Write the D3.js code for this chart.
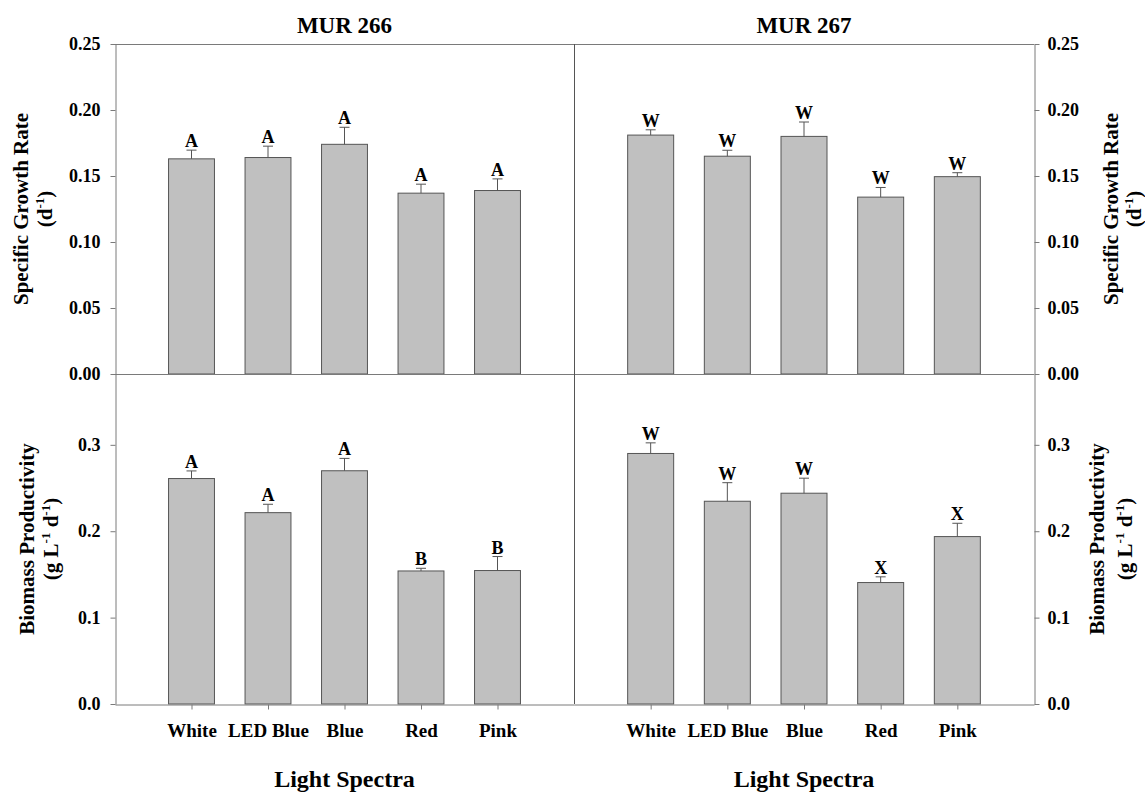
<!DOCTYPE html>
<html>
<head>
<meta charset="utf-8">
<script src="https://cdn.jsdelivr.net/npm/d3@7"></script>
<style>
  html, body { margin: 0; padding: 0; background: #fff; }
  svg text { font-family: "Liberation Serif", "Times New Roman", serif; font-weight: bold; fill: #000; }
</style>
</head>
<body>
<svg id="chart" width="1145" height="794"></svg>
<script>
// Light spectra tested on each strain
const categories = ["White", "LED Blue", "Blue", "Red", "Pink"];
const strains = ["MUR 266", "MUR 267"];

// Specific growth rate (d^-1): means, upper error, significance letters
const sgr266 = [0.163, 0.164, 0.174, 0.137, 0.139];
const sgr266Err = [0.0066, 0.0086, 0.0129, 0.0068, 0.0088];
const sgr266Letters = ["A", "A", "A", "A", "A"];
const sgr267 = [0.181, 0.165, 0.180, 0.134, 0.1495];
const sgr267Err = [0.0040, 0.0045, 0.0109, 0.0073, 0.0030];
const sgr267Letters = ["W", "W", "W", "W", "W"];

// Biomass productivity (g L^-1 d^-1)
const bp266 = [0.261, 0.2215, 0.270, 0.154, 0.1545];
const bp266Err = [0.0088, 0.0097, 0.0143, 0.0031, 0.0162];
const bp266Letters = ["A", "A", "A", "B", "B"];
const bp267 = [0.290, 0.2347, 0.244, 0.1406, 0.1938];
const bp267Err = [0.0123, 0.0215, 0.0174, 0.0066, 0.0154];
const bp267Letters = ["W", "W", "W", "X", "X"];

const sgrTicks = [0, 0.05, 0.10, 0.15, 0.20, 0.25];
const bpTicks = [0, 0.1, 0.2, 0.3];

const svg = d3.select("#chart");

// frame geometry
const xL = 115, xM = 574, xR = 1034;
const yT = 44, yM = 374, yB = 704;

const AXIS = "#7a7a7a";
const BAR_FILL = "#c0c0c0";
const BAR_STROKE = "#555";

const ySgr = d3.scaleLinear().domain([0, 0.25]).range([yM, yT]);
const yBp = d3.scaleLinear().domain([0, 0.382]).range([yB, yM]);

const xCols = [
  d3.scalePoint().domain(categories).range([xL, xM]).padding(1),
  d3.scalePoint().domain(categories).range([xM, xR]).padding(1)
];

const panels = [
  { col: 0, y: ySgr, values: sgr266, err: sgr266Err, letters: sgr266Letters },
  { col: 1, y: ySgr, values: sgr267, err: sgr267Err, letters: sgr267Letters },
  { col: 0, y: yBp, values: bp266, err: bp266Err, letters: bp266Letters },
  { col: 1, y: yBp, values: bp267, err: bp267Err, letters: bp267Letters }
];

// bars, error bars and letters
panels.forEach(p => {
  const x = xCols[p.col];
  const bw = x.step() * 0.6;
  const g = svg.append("g");
  const rows = categories.map((c, i) => ({ c, v: p.values[i], e: p.err[i], l: p.letters[i] }));

  g.selectAll("rect").data(rows).join("rect")
    .attr("x", d => x(d.c) - bw / 2)
    .attr("y", d => p.y(d.v))
    .attr("width", bw)
    .attr("height", d => p.y(0) - p.y(d.v))
    .attr("fill", BAR_FILL)
    .attr("stroke", BAR_STROKE)
    .attr("stroke-width", 1);

  g.selectAll("line.err").data(rows).join("line")
    .attr("class", "err")
    .attr("x1", d => x(d.c)).attr("x2", d => x(d.c))
    .attr("y1", d => p.y(d.v)).attr("y2", d => p.y(d.v + d.e))
    .attr("stroke", BAR_STROKE).attr("stroke-width", 1);

  g.selectAll("line.cap").data(rows).join("line")
    .attr("class", "cap")
    .attr("x1", d => x(d.c) - 5).attr("x2", d => x(d.c) + 5)
    .attr("y1", d => p.y(d.v + d.e)).attr("y2", d => p.y(d.v + d.e))
    .attr("stroke", BAR_STROKE).attr("stroke-width", 1);

  g.selectAll("text").data(rows).join("text")
    .attr("x", d => x(d.c))
    .attr("y", d => p.y(d.v + d.e) - 3)
    .attr("text-anchor", "middle")
    .attr("font-size", 18)
    .text(d => d.l);
});

// frame lines
const frame = svg.append("g").attr("stroke", AXIS).attr("stroke-width", 1).attr("fill", "none");
frame.append("line").attr("x1", xL).attr("x2", xR).attr("y1", yT + 0.5).attr("y2", yT + 0.5);
frame.append("line").attr("x1", xL).attr("x2", xR).attr("y1", yM + 0.5).attr("y2", yM + 0.5);
frame.append("line").attr("x1", xM + 0.5).attr("x2", xM + 0.5).attr("y1", yT).attr("y2", yB).attr("stroke", "#555");

// y axes
function styleAxis(sel) {
  sel.select(".domain").attr("stroke", AXIS);
  sel.selectAll(".tick line").attr("stroke", AXIS);
  sel.selectAll(".tick text").attr("font-size", 18).attr("fill", "#000");
}
svg.append("g").attr("transform", `translate(${xL + 0.5},0)`)
  .call(d3.axisLeft(ySgr).tickValues(sgrTicks).tickFormat(d3.format(".2f")).tickSize(5).tickSizeOuter(0).tickPadding(10))
  .call(styleAxis);
svg.append("g").attr("transform", `translate(${xR + 0.5},0)`)
  .call(d3.axisRight(ySgr).tickValues(sgrTicks).tickFormat(d3.format(".2f")).tickSize(5).tickSizeOuter(0).tickPadding(8))
  .call(styleAxis);
svg.append("g").attr("transform", `translate(${xL + 0.5},0)`)
  .call(d3.axisLeft(yBp).tickValues(bpTicks).tickFormat(d3.format(".1f")).tickSize(5).tickSizeOuter(0).tickPadding(10))
  .call(styleAxis);
svg.append("g").attr("transform", `translate(${xR + 0.5},0)`)
  .call(d3.axisRight(yBp).tickValues(bpTicks).tickFormat(d3.format(".1f")).tickSize(5).tickSizeOuter(0).tickPadding(8))
  .call(styleAxis);

// x axes along the bottom
xCols.forEach(x => {
  svg.append("g").attr("transform", `translate(0,${yB + 0.5})`)
    .call(d3.axisBottom(x).tickSize(5).tickSizeOuter(0).tickPadding(14))
    .call(sel => {
      sel.select(".domain").attr("stroke", AXIS);
      sel.selectAll(".tick line").attr("stroke", AXIS);
      sel.selectAll(".tick text").attr("font-size", 19).attr("fill", "#000");
    });
});

// strain titles and x-axis titles
strains.forEach((s, i) => {
  const x = xCols[i];
  const cx = (x.range()[0] + x.range()[1]) / 2;
  svg.append("text").attr("x", cx).attr("y", 33).attr("text-anchor", "middle")
    .attr("font-size", 23).text(s);
  svg.append("text").attr("x", cx).attr("y", 787).attr("text-anchor", "middle")
    .attr("font-size", 24).text("Light Spectra");
});

// rotated y-axis titles; superscript parts are raised with dy and the
// following part drops back to the baseline
function yTitle(x1, x2, cy, line1, unitParts) {
  const g = svg.append("g").attr("font-size", 21);
  g.append("text").attr("transform", `translate(${x1},${cy}) rotate(-90)`)
    .attr("text-anchor", "middle").text(line1);
  const t = g.append("text").attr("transform", `translate(${x2},${cy}) rotate(-90)`)
    .attr("text-anchor", "middle");
  let raised = false;
  unitParts.forEach(([txt, sup]) => {
    const span = t.append("tspan").text(txt);
    if (sup) {
      span.attr("font-size", 13).attr("dy", -8);
      raised = true;
    } else if (raised) {
      span.attr("dy", 8);
      raised = false;
    }
  });
}
const sgrUnit = [["(d", false], ["-1", true], [")", false]];
const bpUnit = [["(g L", false], ["-1", true], [" d", false], ["-1", true], [")", false]];
const cTop = (yT + yM) / 2, cBot = (yM + yB) / 2;
yTitle(28, 52, cTop, "Specific Growth Rate", sgrUnit);
yTitle(34, 58, cBot, "Biomass Productivity", bpUnit);
yTitle(1118, 1141, cTop, "Specific Growth Rate", sgrUnit);
yTitle(1104, 1132, cBot, "Biomass Productivity", bpUnit);
</script>
</body>
</html>
